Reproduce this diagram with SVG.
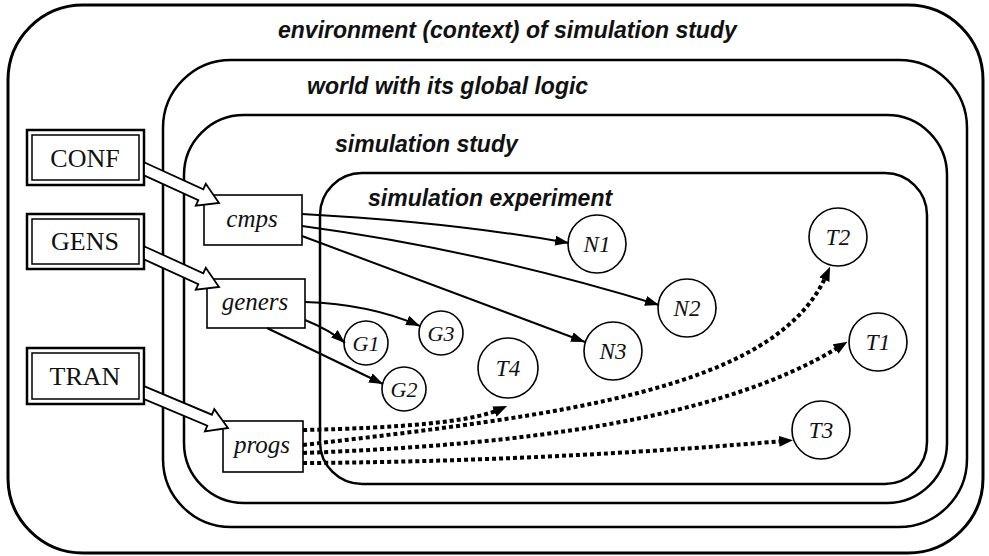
<svg xmlns="http://www.w3.org/2000/svg" width="989" height="556" viewBox="0 0 989 556">
<style>
.bg{fill:#fff}
.region{fill:none;stroke:#000;stroke-width:2.5}
.rtitle{font-family:"Liberation Sans",Arial,sans-serif;font-weight:bold;font-style:italic;font-size:23px;fill:#111}
.dbl-o{fill:#fff;stroke:#000;stroke-width:2.5}
.dbl-i{fill:none;stroke:#000;stroke-width:1.5}
.src{font-family:"Liberation Serif","Times New Roman",serif;font-size:26px;fill:#111;text-anchor:middle}
.box{fill:#fff;stroke:#000;stroke-width:1.6}
.itl{font-family:"Liberation Serif","Times New Roman",serif;font-style:italic;fill:#111;text-anchor:middle}
.circ{fill:#fff;stroke:#000;stroke-width:1.6}
.solid{fill:none;stroke:#000;stroke-width:2;marker-end:url(#ah)}
.dot{fill:none;stroke:#000;stroke-width:4;stroke-dasharray:4 3;marker-end:url(#ahd)}
.hollow{fill:#fff;stroke:#000;stroke-width:1.8;stroke-linejoin:miter}
</style>
<defs>
<marker id="ah" viewBox="0 0 14 10" refX="14" refY="5" markerWidth="14" markerHeight="10" orient="auto" markerUnits="userSpaceOnUse"><path d="M0,0 L14,5 L0,10 z" fill="#000"/></marker>
<marker id="ahd" viewBox="0 0 14 11" refX="4" refY="5.5" markerWidth="14" markerHeight="11" orient="auto" markerUnits="userSpaceOnUse"><path d="M0,0 L14,5.5 L0,11 z" fill="#000"/></marker>
</defs>
<rect class="bg" x="0" y="0" width="989" height="556"/>

<g id="environment">
<rect class="region" x="8" y="5" width="975" height="548" rx="75" ry="75" style="stroke-width:3"/>
<text class="rtitle" x="278" y="38">environment (context) of simulation study</text>
</g>
<g id="world">
<rect class="region" x="163" y="60" width="804" height="467" rx="68" ry="68"/>
<text class="rtitle" x="307" y="94">world with its global logic</text>
</g>
<g id="study">
<rect class="region" x="184" y="115" width="763" height="388" rx="60" ry="60"/>
<text class="rtitle" x="335" y="152">simulation study</text>
</g>
<g id="experiment">
<rect class="region" x="320" y="173" width="607" height="311" rx="42" ry="42"/>
<text class="rtitle" x="368" y="206">simulation experiment</text>
</g>

<g id="CONF">
<rect class="dbl-o" x="27" y="130" width="117" height="55"/>
<rect class="dbl-i" x="32" y="135" width="107" height="45"/>
<text class="src" x="85" y="167">CONF</text>
</g>
<g id="GENS">
<rect class="dbl-o" x="27" y="214" width="117" height="55"/>
<rect class="dbl-i" x="32" y="219" width="107" height="45"/>
<text class="src" x="85" y="250">GENS</text>
</g>
<g id="TRAN">
<rect class="dbl-o" x="27" y="348" width="117" height="56"/>
<rect class="dbl-i" x="32" y="353" width="107" height="46"/>
<text class="src" x="85" y="385">TRAN</text>
</g>

<g id="cmps">
<rect class="box" x="204" y="195" width="98" height="50"/>
<text class="itl" x="252" y="227" font-size="25">cmps</text>
</g>
<g id="geners">
<rect class="box" x="207" y="279" width="98" height="49"/>
<text class="itl" x="255" y="310" font-size="25">geners</text>
</g>
<g id="progs">
<rect class="box" x="223" y="421" width="80" height="51"/>
<text class="itl" x="262" y="453" font-size="25">progs</text>
</g>

<g id="N1"><circle class="circ" cx="597" cy="244" r="29"/><text class="itl" x="597" y="252" font-size="23">N1</text></g>
<g id="N2"><circle class="circ" cx="687" cy="308" r="29"/><text class="itl" x="687" y="316" font-size="23">N2</text></g>
<g id="N3"><circle class="circ" cx="613" cy="351" r="29"/><text class="itl" x="613" y="359" font-size="23">N3</text></g>
<g id="T2"><circle class="circ" cx="838" cy="237" r="29"/><text class="itl" x="838" y="245" font-size="23">T2</text></g>
<g id="T1"><circle class="circ" cx="878" cy="342" r="29"/><text class="itl" x="878" y="350" font-size="23">T1</text></g>
<g id="T3"><circle class="circ" cx="821" cy="430" r="29"/><text class="itl" x="821" y="438" font-size="23">T3</text></g>
<g id="T4"><circle class="circ" cx="508" cy="368" r="30"/><text class="itl" x="508" y="376" font-size="23">T4</text></g>
<g id="G1"><circle class="circ" cx="366" cy="343" r="22"/><text class="itl" x="366" y="350.5" font-size="22">G1</text></g>
<g id="G3"><circle class="circ" cx="441" cy="333" r="22"/><text class="itl" x="441" y="340.5" font-size="22">G3</text></g>
<g id="G2"><circle class="circ" cx="404" cy="389" r="22"/><text class="itl" x="404" y="396.5" font-size="22">G2</text></g>

<g id="connectors">
<polygon class="hollow" points="144,162.2 203.3,189.2 205.8,183.8 219,203 195.8,205.6 198.3,200.2 144,175.4"/>
<polygon class="hollow" points="144,246.2 203.3,273.2 205.8,267.8 219,287 195.8,289.6 198.3,284.2 144,259.4"/>
<polygon class="hollow" points="144,386.1 211.9,414.7 214.3,409.1 228,428 204.9,431.3 207.3,425.7 144,399.1"/>

<path class="solid" d="M302,214 Q450,222 569,243"/>
<path class="solid" d="M302,226 Q480,250 659,305"/>
<path class="solid" d="M302,236 L585,342"/>
<path class="solid" d="M305,302 Q370,304 420,326"/>
<path class="solid" d="M305,320 Q330,330 345,343"/>
<path class="solid" d="M267,328 L383,384"/>

<path class="dot" d="M303,430 C400,428 470,422 498,410"/>
<path class="dot" d="M303,445 C560,415 775,390 826,276"/>
<path class="dot" d="M303,453 C520,445 720,420 839,347"/>
<path class="dot" d="M303,463 C500,462 680,450 783,441"/>
</g>
</svg>
